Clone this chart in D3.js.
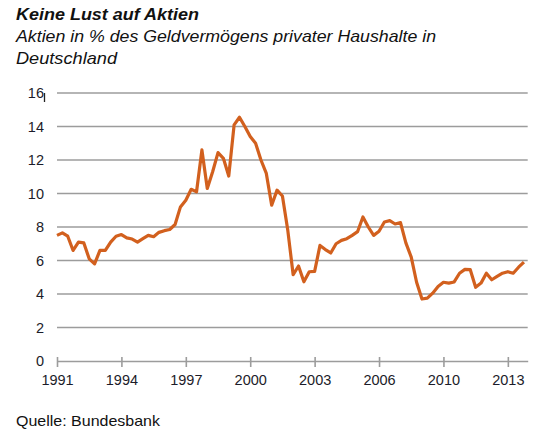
<!DOCTYPE html>
<html>
<head>
<meta charset="utf-8">
<script src="https://cdn.jsdelivr.net/npm/d3@7"></script>
<style>
  body { margin: 0; background: #fff; }
  svg { font-family: "Liberation Sans", Arial, sans-serif; }
</style>
</head>
<body>
<div id="chart"></div>
<script>
// Aktienanteil (in %) je Quartal, ab 1991 Q1
const values = [
    7.5, 7.65, 7.45, 6.6, 7.1, 7.05, 6.1, 5.8, 6.6, 6.6,
    7.1, 7.45, 7.55, 7.35, 7.28, 7.1, 7.3, 7.5, 7.42, 7.68,
    7.78, 7.85, 8.15, 9.2, 9.6, 10.25, 10.1, 12.6, 10.3, 11.3,
    12.44, 12.1, 11.04, 14.1, 14.55, 14.0, 13.4, 13.0, 12.0, 11.2,
    9.3, 10.2, 9.85, 7.8, 5.15, 5.67, 4.73, 5.33, 5.35, 6.9,
    6.65, 6.45, 7.0, 7.2, 7.3, 7.5, 7.72, 8.6, 8.0, 7.5,
    7.75, 8.3, 8.38, 8.18, 8.26, 7.05, 6.2, 4.7, 3.7, 3.75,
    4.05, 4.45, 4.7, 4.65, 4.72, 5.24, 5.47, 5.45, 4.4, 4.65,
    5.24, 4.85, 5.05, 5.24, 5.33, 5.24, 5.6, 5.9
];
const tickIndex = [0, 12, 24, 36, 48, 60, 72, 84];
const tickLabels = ["1991", "1994", "1997", "2000", "2003", "2006", "2010", "2013"];
const yTicks = [0, 2, 4, 6, 8, 10, 12, 14, 16];

const title = "Keine Lust auf Aktien";
const subtitle = ["Aktien in % des Geldvermögens privater Haushalte in", "Deutschland"];
const subtitleWidths = [420, 101];
const source = "Quelle: Bundesbank";

const width = 540, height = 434;

const svg = d3.select("#chart")
    .append("svg")
    .attr("width", width)
    .attr("height", height);

const x = d3.scaleLinear().domain([0, 87.7]).range([57, 527.7]);
const y = d3.scaleLinear().domain([0, 16]).range([361, 93]);

// titles
svg.append("text")
    .attr("x", 16).attr("y", 20)
    .attr("font-size", 16.5)
    .attr("font-weight", "bold")
    .attr("font-style", "italic")
    .attr("fill", "#111")
    .attr("textLength", 183)
    .attr("lengthAdjust", "spacingAndGlyphs")
    .text(title);

svg.selectAll("text.sub")
    .data(subtitle)
    .join("text")
    .attr("class", "sub")
    .attr("x", 16)
    .attr("y", (d, i) => 42 + i * 22)
    .attr("font-size", 16.5)
    .attr("font-style", "italic")
    .attr("fill", "#111")
    .attr("textLength", (d, i) => subtitleWidths[i])
    .attr("lengthAdjust", "spacingAndGlyphs")
    .text(d => d);

// gridlines
svg.append("g")
    .selectAll("line")
    .data(yTicks.filter(d => d > 0))
    .join("line")
    .attr("x1", x.range()[0])
    .attr("x2", x.range()[1])
    .attr("y1", d => y(d))
    .attr("y2", d => y(d))
    .attr("stroke", "#9c9c9c")
    .attr("stroke-width", 1.6);

// y labels
svg.append("g")
    .selectAll("text")
    .data(yTicks)
    .join("text")
    .attr("x", 44)
    .attr("y", d => y(d) + 5)
    .attr("text-anchor", "end")
    .attr("font-size", 14.5)
    .attr("fill", "#1c1c2a")
    .text(d => d);

// small stray mark next to the 16
svg.append("line")
    .attr("x1", 44.5).attr("x2", 44.5)
    .attr("y1", y(16)).attr("y2", y(16) + 9)
    .attr("stroke", "#222")
    .attr("stroke-width", 1.3);

// x axis
const xAxis = d3.axisBottom(x)
    .tickValues(tickIndex)
    .tickFormat((d, i) => tickLabels[i])
    .tickSizeInner(6)
    .tickSizeOuter(0)
    .tickPadding(8);

const gx = svg.append("g")
    .attr("transform", `translate(0,${y(0)})`)
    .call(xAxis);

gx.select(".domain").attr("stroke", "#9c9c9c").attr("stroke-width", 1.6);
gx.selectAll(".tick line")
    .attr("stroke", "#9c9c9c")
    .attr("stroke-width", 1.6)
    .attr("y1", -4)
    .attr("y2", 6);
gx.selectAll(".tick text")
    .attr("font-size", 14.5)
    .attr("font-family", "Liberation Sans, Arial, sans-serif")
    .attr("fill", "#1c1c2a");

// line
const line = d3.line()
    .x((d, i) => x(i))
    .y(d => y(d));

svg.append("path")
    .datum(values)
    .attr("fill", "none")
    .attr("stroke", "#d2601e")
    .attr("stroke-width", 3.2)
    .attr("stroke-linejoin", "round")
    .attr("d", line);

// source
svg.append("text")
    .attr("x", 16).attr("y", 426)
    .attr("font-size", 14.5)
    .attr("fill", "#111")
    .attr("textLength", 144)
    .attr("lengthAdjust", "spacingAndGlyphs")
    .text(source);
</script>
</body>
</html>
